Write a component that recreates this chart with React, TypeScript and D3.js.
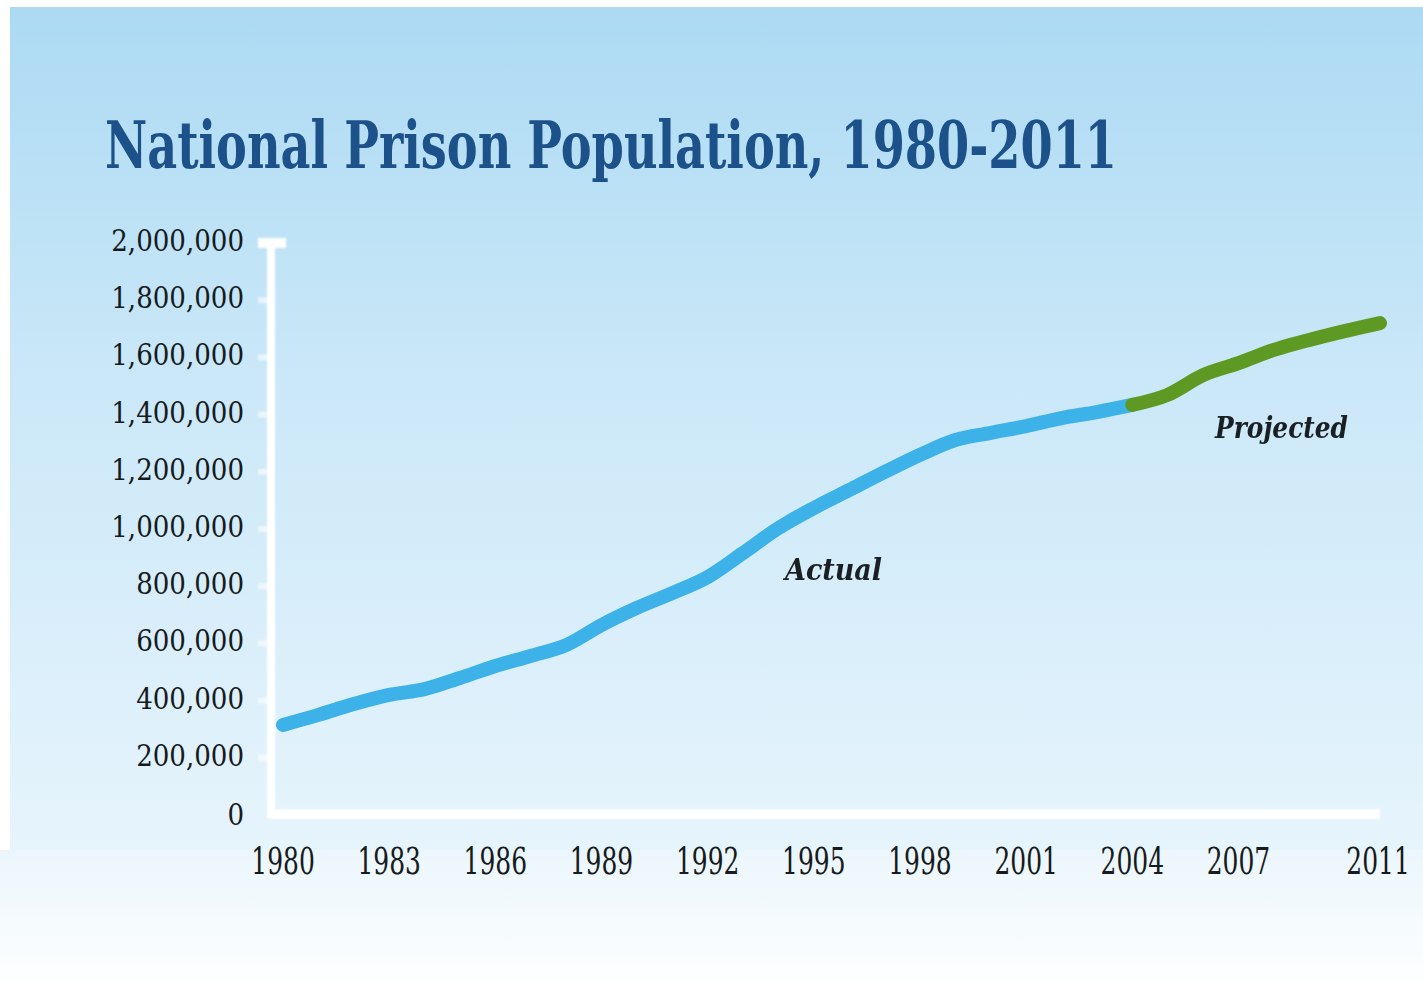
import React from "react";
import * as d3 from "d3";

const years: number[] = [1980,1981,1982,1983,1984,1985,1986,1987,1988,1989,1990,1991,1992,1993,1994,1995,1996,1997,1998,1999,2000,2001,2002,2003,2004,2005,2006,2007,2008,2009,2010,2011];
const population: number[] = [315000,350000,388000,420000,440000,479000,521000,556000,594000,664000,724000,776000,832000,916000,1003000,1073000,1136000,1199000,1259000,1311000,1336000,1360000,1388000,1409000,1434000,1469000,1538000,1580000,1626000,1661000,1692000,1720000];
const projectedFrom = 2004;
const xTicks: number[] = [1980,1983,1986,1989,1992,1995,1998,2001,2004,2007,2011];
const yTicks: number[] = [0,200000,400000,600000,800000,1000000,1200000,1400000,1600000,1800000,2000000];
const title = "National Prison Population, 1980-2011";

const W = 1423, H = 992;
const serif = "'DejaVu Serif Condensed', 'DejaVu Serif', serif";

export default function App() {
  const x = d3.scaleLinear().domain([1980, 2011]).range([283, 1380]);
  const y = d3.scaleLinear().domain([0, 2000000]).range([815, 243]);
  const pts = years.map((yr, i) => ({ yr, v: population[i] }));
  const line = d3.line<{ yr: number; v: number }>().x(d => x(d.yr)).y(d => y(d.v)).curve(d3.curveMonotoneX);
  const actual = pts.filter(p => p.yr <= projectedFrom);
  const projected = pts.filter(p => p.yr >= projectedFrom);
  const fmt = d3.format(",");

  return (
    <div style={{ position: "absolute", left: 0, top: 0 }}>
      <svg width={W} height={H} style={{ display: "block" }}>
        <defs>
          <linearGradient id="bg" x1="0" y1="0" x2="0" y2="1">
            <stop offset="0" stopColor="#acdaf3" />
            <stop offset="0.45" stopColor="#cbe8f8" />
            <stop offset="1" stopColor="#e6f4fc" />
          </linearGradient>
          <linearGradient id="bg2" x1="0" y1="0" x2="0" y2="1">
            <stop offset="0" stopColor="#ebf6fc" />
            <stop offset="1" stopColor="#ffffff" />
          </linearGradient>
          <filter id="soft" x="-5%" y="-5%" width="110%" height="110%">
            <feGaussianBlur stdDeviation="1.2" />
          </filter>
        </defs>
        <rect x={0} y={0} width={W} height={H} fill="#ffffff" />
        <rect x={10} y={7} width={W - 10} height={843} fill="url(#bg)" />
        <rect x={0} y={850} width={W} height={H - 850} fill="url(#bg2)" />

        <text x={105} y={168} fontFamily={serif} fontWeight="bold" fontSize={66} fill="#1c5189" textLength={1012} lengthAdjust="spacingAndGlyphs">{title}</text>

        {/* axes */}
        <g filter="url(#soft)">
          <rect x={267} y={243} width={8} height={575} fill="#ffffff" />
          <rect x={258} y={238} width={28} height={10} fill="#ffffff" />
          <rect x={271} y={809} width={1109} height={10} fill="#ffffff" opacity={0.95} />
          {yTicks.slice(1, -1).map(t => (
            <rect key={t} x={258} y={y(t) - 3} width={12} height={6} fill="#ffffff" opacity={0.6} />
          ))}
        </g>

        {yTicks.map(t => (
          <text key={t} x={244} y={y(t) + (t === 0 ? 2 : 0)} textAnchor="end" dominantBaseline="middle" fontFamily={serif} fontSize={29} fill="#161b20">{fmt(t)}</text>
        ))}
        {xTicks.map(t => (
          <text key={t} transform={`translate(${x(t) - (t === 2011 ? 2 : 0)},874) scale(0.75,1)`} textAnchor="middle" fontFamily={serif} fontSize={37} fill="#161b20">{t}</text>
        ))}

        <path d={line(actual) || ""} fill="none" stroke="#3cb2e8" strokeWidth={14} strokeLinecap="round" strokeLinejoin="round" />
        <path d={line(projected) || ""} fill="none" stroke="#5e9a23" strokeWidth={14} strokeLinecap="round" strokeLinejoin="round" />

        <text x={785} y={580} fontFamily={serif} fontStyle="italic" fontWeight="bold" fontSize={30} fill="#1a1f24" textLength={97} lengthAdjust="spacingAndGlyphs">Actual</text>
        <text x={1215} y={438} fontFamily={serif} fontStyle="italic" fontWeight="bold" fontSize={30} fill="#1a1f24" textLength={133} lengthAdjust="spacingAndGlyphs">Projected</text>
      </svg>
    </div>
  );
}
